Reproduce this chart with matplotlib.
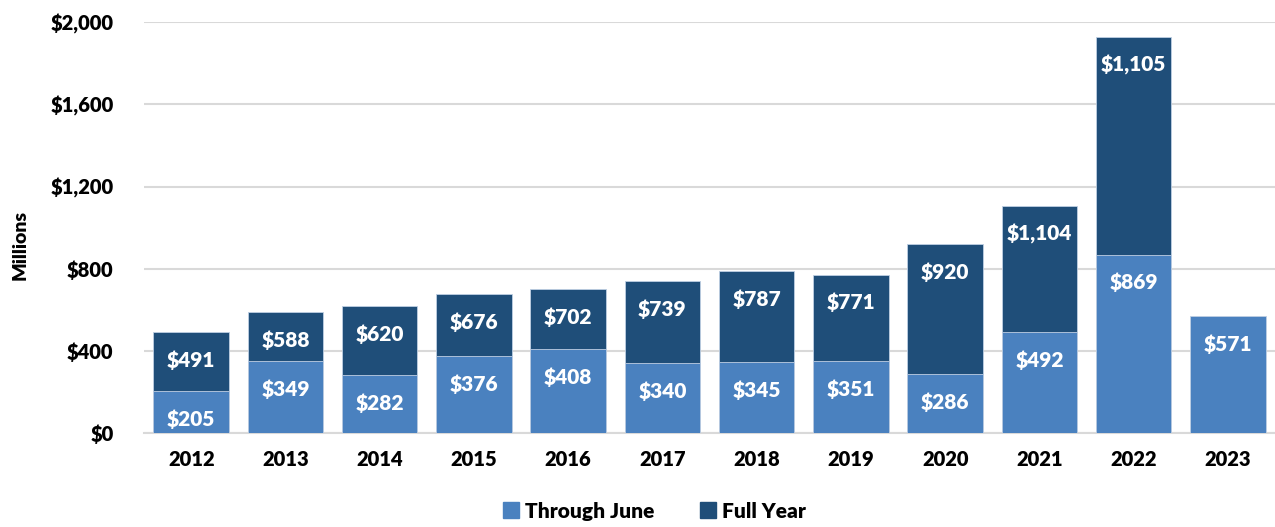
import matplotlib
matplotlib.use("Agg")
import matplotlib.pyplot as plt
from matplotlib.patches import Patch

years = ["2012", "2013", "2014", "2015", "2016", "2017", "2018", "2019", "2020", "2021", "2022", "2023"]
through_june = [205, 349, 282, 376, 408, 340, 345, 351, 286, 492, 869, 571]
full_year = [491, 588, 620, 676, 702, 739, 787, 771, 920, 1104, 1930, None]
through_june_labels = ["$205", "$349", "$282", "$376", "$408", "$340", "$345", "$351", "$286", "$492", "$869", "$571"]
full_year_labels = ["$491", "$588", "$620", "$676", "$702", "$739", "$787", "$771", "$920", "$1,104", "$1,105", ""]
yticks = [0, 400, 800, 1200, 1600, 2000]
ytick_labels = ["$0", "$400", "$800", "$1,200", "$1,600", "$2,000"]

LIGHT = "#4A81BF"
DARK = "#1F4E79"
FONT = ["Lato", "DejaVu Sans"]
W = "heavy"
plt.rcParams["font.family"] = FONT

fig = plt.figure(figsize=(12.75, 5.27), dpi=100)
ax = fig.add_axes([0.113, 0.178, 0.887, 0.780])

x = list(range(len(years)))
fy_x = [i for i, v in zip(x, full_year) if v is not None]
fy_v = [v for v in full_year if v is not None]
ax.bar(fy_x, fy_v, width=0.8, color=DARK, edgecolor="#BFCFE3", linewidth=0.6, zorder=2)
ax.bar(x, through_june, width=0.8, color=LIGHT, edgecolor="#BFCFE3", linewidth=0.6, zorder=3)

for i, v in enumerate(full_year):
    if v is not None and full_year_labels[i]:
        ax.annotate(full_year_labels[i], (i, v), xytext=(0, -28), textcoords="offset pixels",
                    ha="center", va="center", color="white", fontsize=15, fontweight=W, zorder=5)
for i, v in enumerate(through_june):
    ax.annotate(through_june_labels[i], (i, v), xytext=(0, -28), textcoords="offset pixels",
                ha="center", va="center", color="white", fontsize=15, fontweight=W, zorder=5)

ax.set_xlim(-0.5, len(years) - 0.5)
ax.set_ylim(0, 2000)
ax.set_yticks(yticks)
ax.set_yticklabels(ytick_labels, fontsize=14.5, fontweight=W)
ax.set_xticks(x)
ax.set_xticklabels(years, fontsize=14.5, fontweight=W)
ax.tick_params(axis="both", length=0)
ax.tick_params(axis="y", pad=22)
ax.tick_params(axis="x", pad=12)
ax.grid(axis="y", color="#D9D9D9", linewidth=1.5, zorder=0)
ax.set_axisbelow(True)
for s in ["top", "right", "left"]:
    ax.spines[s].set_visible(False)
ax.spines["bottom"].set_color("#D9D9D9")
ax.spines["bottom"].set_linewidth(1.5)

fig.text(0.016, 0.535, "Millions", rotation=90, ha="center", va="center",
         fontsize=14, fontweight=W)

handles = [Patch(color=LIGHT, label="Through June"), Patch(color=DARK, label="Full Year")]
leg = fig.legend(handles=handles, loc="center", bbox_to_anchor=(0.513, 0.03), ncol=2, frameon=False,
                 prop={"size": 15, "weight": W, "family": FONT}, handlelength=0.8, handleheight=0.8,
                 handletextpad=0.25, columnspacing=2.2, borderpad=0.1)

fig.savefig("out.png", dpi=100)
